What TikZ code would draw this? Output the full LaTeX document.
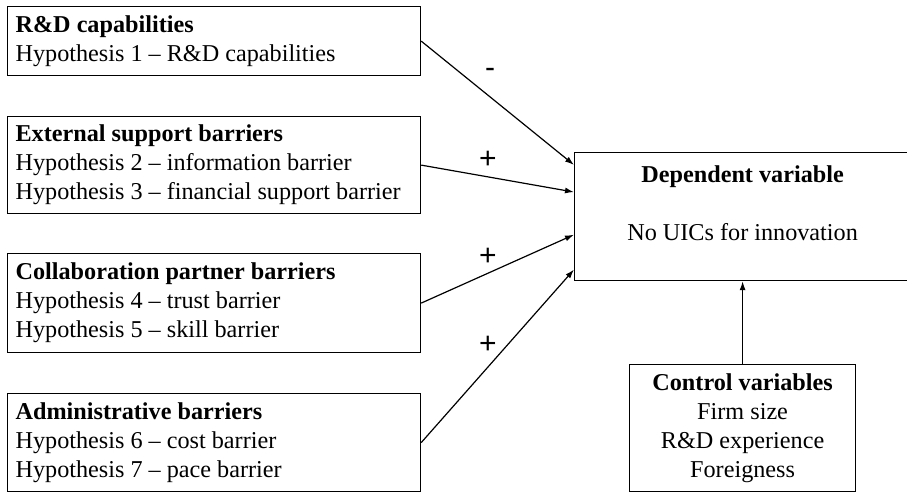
\documentclass[tikz,border=0pt]{standalone}
\usepackage{fontspec}
\setmainfont{Liberation Serif}
\newfontfamily\signfont{Liberation Sans}
\usetikzlibrary{positioning,calc,arrows.meta}

\begin{document}
\begin{tikzpicture}[x=1pt,y=-1pt,>={Latex[length=9pt,width=6pt]},line width=1.2pt,
        hypbox/.style={draw,anchor=north west,text width=397pt,inner xsep=8pt,inner ysep=8pt,align=flush left,font=\fontsize{24.2}{29}\selectfont},
        varbox/.style={draw,align=center,inner ysep=8pt,font=\fontsize{24.2}{29}\selectfont},
        sign/.style={font=\signfont\fontsize{30}{30}\selectfont}]
        \clip (0,0) rectangle (907,491);

        \node[hypbox,minimum height=69pt] (rd) at (7,6) {\textbf{R\&D capabilities}\\Hypothesis 1 -- R\&D capabilities};
        \node[hypbox,minimum height=97pt] (ext) at (7,116) {\textbf{External support barriers}\\Hypothesis 2 -- information barrier\\Hypothesis 3 -- financial support barrier};
        \node[hypbox,minimum height=99pt] (collab) at (7,253) {\textbf{Collaboration partner barriers}\\Hypothesis 4 -- trust barrier\\Hypothesis 5 -- skill barrier};
        \node[hypbox,minimum height=98pt] (admin) at (7,393) {\textbf{Administrative barriers}\\Hypothesis 6 -- cost barrier\\Hypothesis 7 -- pace barrier};

        \node[varbox,anchor=north west,minimum width=336pt,minimum height=128pt,text depth=27pt] (dep) at (574,152) {\textbf{Dependent variable}\\[29pt]No UICs for innovation};
        \node[varbox,anchor=north west,minimum width=226pt,minimum height=127pt] (ctrl) at (629,364) {\textbf{Control variables}\\Firm size\\R\&D experience\\Foreigness};

        \draw[->] (rd.east) -- ($ (dep.north west)!0.10!(dep.south west) $);
        \draw[->] (ext.east) -- ($ (dep.north west)!0.31!(dep.south west) $);
        \draw[->] (collab.east) -- ($ (dep.north west)!0.64!(dep.south west) $);
        \draw[->] (admin.east) -- ($ (dep.north west)!0.91!(dep.south west) $);
        \draw[->] (ctrl.north) -- (ctrl.north |- dep.south);

        \node[sign] (s1) at (490,73) {-};
        \node[sign] (s2) at (488,160) {+};
        \node[sign] (s3) at (488,257) {+};
        \node[sign] (s4) at (488,345) {+};
    \end{tikzpicture}
\end{document}
